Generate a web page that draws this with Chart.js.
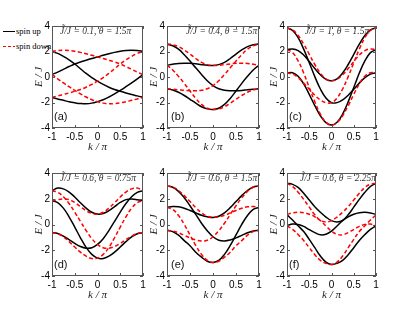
<!DOCTYPE html>
<html>
<head>
<meta charset="utf-8">
<script src="https://cdn.jsdelivr.net/npm/chart.js@4.4.1/dist/chart.umd.min.js"></script>
<style>
  html, body { margin: 0; padding: 0; background: #fff; }
  #wrap { position: relative; width: 415px; height: 310px; overflow: hidden; }
  #wrap canvas { position: absolute; }
  .note { position: absolute; font: italic 9.5px 'Liberation Serif', 'Times New Roman', serif; white-space: nowrap; line-height: 1; color: #333; }
  .tag { position: absolute; font: 11px 'Liberation Sans Narrow', 'Liberation Sans', Arial, sans-serif; line-height: 1; color: #111; }
  .leg { position: absolute; font: 8.5px 'Liberation Serif', 'Times New Roman', serif; line-height: 1; white-space: nowrap; color: #000; }
  .swatch { position: absolute; width: 12px; height: 1.6px; }
</style>
</head>
<body>
<div id="wrap">
  <div class="swatch" style="left:3px;top:30.5px;background:#000"></div>
  <div class="leg" style="left:16px;top:26.5px">spin up</div>
  <div class="swatch" style="left:3px;top:45.5px;background:repeating-linear-gradient(90deg,#f00 0 3px,transparent 3px 5px)"></div>
  <div class="leg" style="left:16px;top:41.5px">spin down</div>
</div>
<script>
// k / pi sample points
const kVals = [-1, -0.875, -0.75, -0.625, -0.5, -0.375, -0.25, -0.125, 0, 0.125, 0.25, 0.375, 0.5, 0.625, 0.75, 0.875, 1];

// (a) J~/J = 0.1, theta = 1.5pi
const upA1 = [0.2, 0.38, 0.6, 0.82, 1.02, 1.18, 1.32, 1.45, 1.57, 1.7, 1.82, 1.93, 2.02, 2.08, 2.1, 2.08, 2.0];
const upA2 = [2.0, 1.85, 1.62, 1.35, 1.02, 0.65, 0.28, -0.05, -0.33, -0.58, -0.8, -0.98, -1.12, -1.25, -1.37, -1.48, -1.6];
const upA3 = [-1.6, -1.72, -1.83, -1.94, -2.02, -2.08, -2.1, -2.05, -1.93, -1.78, -1.57, -1.32, -1.05, -0.76, -0.46, -0.14, 0.2];
const dnA1 = [2.0, 2.08, 2.1, 2.08, 2.02, 1.93, 1.82, 1.7, 1.57, 1.45, 1.32, 1.18, 1.02, 0.82, 0.6, 0.38, 0.2];
const dnA2 = [-1.6, -1.48, -1.37, -1.25, -1.12, -0.98, -0.8, -0.58, -0.33, -0.05, 0.28, 0.65, 1.02, 1.35, 1.62, 1.85, 2.0];
const dnA3 = [0.2, -0.14, -0.46, -0.76, -1.05, -1.32, -1.57, -1.78, -1.93, -2.05, -2.1, -2.08, -2.02, -1.94, -1.83, -1.72, -1.6];

// (b) J~/J = 0.4, theta = 1.5pi
const upB1 = [2.57, 2.45, 2.18, 1.75, 1.25, 0.72, 0.2, -0.3, -0.68, -0.92, -1.04, -1.08, -1.08, -1.05, -1.0, -0.96, -0.93];
const upB2 = [0.92, 1.0, 1.06, 1.08, 1.07, 1.03, 0.97, 0.92, 0.9, 0.97, 1.15, 1.45, 1.8, 2.12, 2.38, 2.53, 2.6];
const upB3 = [-0.93, -1.02, -1.2, -1.45, -1.75, -2.05, -2.33, -2.5, -2.55, -2.45, -2.15, -1.68, -1.1, -0.5, 0.05, 0.55, 0.92];
const dnB1 = [-0.93, -0.96, -1.0, -1.05, -1.08, -1.08, -1.04, -0.92, -0.68, -0.3, 0.2, 0.72, 1.25, 1.75, 2.18, 2.45, 2.57];
const dnB2 = [2.6, 2.53, 2.38, 2.12, 1.8, 1.45, 1.15, 0.97, 0.9, 0.92, 0.97, 1.03, 1.07, 1.08, 1.06, 1.0, 0.92];
const dnB3 = [0.92, 0.55, 0.05, -0.5, -1.1, -1.68, -2.15, -2.45, -2.55, -2.5, -2.33, -2.05, -1.75, -1.45, -1.2, -1.02, -0.93];

// (c) J~/J = 1, theta = 1.5pi
const upC1 = [3.85, 3.65, 3.09, 2.19, 1.12, 0.03, -0.94, -1.65, -2.02, -2.01, -1.8, -1.43, -0.96, -0.48, -0.05, 0.23, 0.33];
const upC2 = [2.15, 2.2, 2.07, 1.72, 1.21, 0.66, 0.17, -0.18, -0.3, -0.14, 0.31, 0.98, 1.78, 2.58, 3.25, 3.7, 3.85];
const upC3 = [0.32, 0.33, 0.06, -0.54, -1.36, -2.25, -3.04, -3.58, -3.77, -3.55, -2.91, -1.95, -0.82, 0.31, 1.27, 1.91, 2.15];
const dnC1 = [0.33, 0.23, -0.05, -0.48, -0.96, -1.43, -1.8, -2.01, -2.02, -1.65, -0.94, 0.03, 1.12, 2.19, 3.09, 3.65, 3.85];
const dnC2 = [3.85, 3.7, 3.25, 2.58, 1.78, 0.98, 0.31, -0.14, -0.3, -0.18, 0.17, 0.66, 1.21, 1.72, 2.07, 2.2, 2.15];
const dnC3 = [2.15, 1.91, 1.27, 0.31, -0.82, -1.95, -2.91, -3.55, -3.77, -3.58, -3.04, -2.25, -1.36, -0.54, 0.06, 0.33, 0.32];

// (d) J~/J = 0.6, theta = 0.75pi
const upD1 = [2.62, 2.83, 2.77, 2.52, 2.14, 1.69, 1.27, 0.95, 0.81, 0.86, 1.07, 1.39, 1.71, 1.93, 1.98, 1.93, 1.85];
const upD2 = [1.85, 1.7, 1.27, 0.6, -0.2, -1.03, -1.78, -2.32, -2.61, -2.64, -2.46, -2.15, -1.75, -1.33, -0.96, -0.72, -0.63];
const upD3 = [-0.63, -0.7, -0.9, -1.18, -1.47, -1.71, -1.84, -1.81, -1.55, -1.1, -0.47, 0.24, 0.96, 1.63, 2.16, 2.5, 2.62];
const dnD1 = [1.85, 1.93, 1.98, 1.93, 1.71, 1.39, 1.07, 0.86, 0.81, 0.95, 1.27, 1.69, 2.14, 2.52, 2.77, 2.83, 2.62];
const dnD2 = [-0.63, -0.72, -0.96, -1.33, -1.75, -2.15, -2.46, -2.64, -2.61, -2.32, -1.78, -1.03, -0.2, 0.6, 1.27, 1.7, 1.85];
const dnD3 = [2.62, 2.5, 2.16, 1.63, 0.96, 0.24, -0.47, -1.1, -1.55, -1.81, -1.84, -1.71, -1.47, -1.18, -0.9, -0.7, -0.63];

// (e) J~/J = 0.6, theta = 1.5pi
const upE1 = [3.0, 2.89, 2.57, 2.08, 1.46, 0.78, 0.1, -0.48, -0.95, -1.22, -1.28, -1.2, -1.04, -0.84, -0.64, -0.5, -0.45];
const upE2 = [1.33, 1.4, 1.37, 1.26, 1.09, 0.9, 0.72, 0.6, 0.55, 0.64, 0.91, 1.31, 1.78, 2.24, 2.64, 2.91, 3.0];
const upE3 = [-0.45, -0.55, -0.83, -1.25, -1.65, -2.15, -2.54, -2.85, -2.95, -2.79, -2.32, -1.63, -0.81, 0.01, 0.7, 1.17, 1.33];
const dnE1 = [-0.45, -0.5, -0.64, -0.84, -1.04, -1.2, -1.28, -1.22, -0.95, -0.48, 0.1, 0.78, 1.46, 2.08, 2.57, 2.89, 3.0];
const dnE2 = [3.0, 2.91, 2.64, 2.24, 1.78, 1.31, 0.91, 0.64, 0.55, 0.6, 0.72, 0.9, 1.09, 1.26, 1.37, 1.4, 1.33];
const dnE3 = [1.33, 1.17, 0.7, 0.01, -0.81, -1.63, -2.32, -2.79, -2.95, -2.85, -2.54, -2.15, -1.65, -1.25, -0.83, -0.55, -0.45];

// (f) J~/J = 0.6, theta = 2.25pi
const upF1 = [3.2, 3.12, 2.88, 2.42, 1.9, 1.38, 0.95, 0.58, 0.3, 0.2, 0.32, 0.75, 1.35, 1.95, 2.5, 2.95, 3.2];
const upF2 = [-0.08, 0.03, 0.0, -0.15, -0.4, -0.63, -0.8, -0.76, -0.52, -0.12, 0.3, 0.6, 0.8, 0.92, 0.95, 0.9, 0.78];
const upF3 = [0.75, 0.35, -0.1, -0.55, -1.15, -1.8, -2.45, -2.92, -3.1, -3.02, -2.78, -2.35, -1.8, -1.25, -0.78, -0.38, -0.1];
const dnF1 = [3.2, 2.95, 2.5, 1.95, 1.35, 0.75, 0.32, 0.2, 0.3, 0.58, 0.95, 1.38, 1.9, 2.42, 2.88, 3.12, 3.2];
const dnF2 = [0.78, 0.9, 0.95, 0.92, 0.8, 0.6, 0.3, -0.12, -0.52, -0.76, -0.8, -0.63, -0.4, -0.15, 0.0, 0.03, -0.08];
const dnF3 = [-0.1, -0.38, -0.78, -1.25, -1.8, -2.35, -2.78, -3.02, -3.1, -2.92, -2.45, -1.8, -1.15, -0.55, -0.1, 0.35, 0.75];

const panelTags = ['(a)', '(b)', '(c)', '(d)', '(e)', '(f)'];
const jRatio = ['0.1', '0.4', '1', '0.6', '0.6', '0.6'];
const thetaVals = ['1.5π', '1.5π', '1.5π', '0.75π', '1.5π', '2.25π'];
const spinUp = [[upA1, upA2, upA3], [upB1, upB2, upB3], [upC1, upC2, upC3], [upD1, upD2, upD3], [upE1, upE2, upE3], [upF1, upF2, upF3]];
const spinDown = [[dnA1, dnA2, dnA3], [dnB1, dnB2, dnB3], [dnC1, dnC2, dnC3], [dnD1, dnD2, dnD3], [dnE1, dnE2, dnE3], [dnF1, dnF2, dnF3]];

// plot-area boxes in page pixels
const boxes = [
  { l: 52, t: 24, w: 91, h: 104 },
  { l: 167, t: 24, w: 92, h: 104 },
  { l: 287, t: 24, w: 89, h: 104 },
  { l: 52, t: 171, w: 91, h: 105 },
  { l: 167, t: 171, w: 92, h: 105 },
  { l: 287, t: 171, w: 89, h: 105 }
];
const noteLeft = [60, 186, 305, 60, 186, 300];
const tagLeft = [54, 171, 289, 54, 171, 289];

const AXIS_W = 42, AXIS_H = 26, PAD = 6;
const tickFont = { family: "'Liberation Sans Narrow', 'Liberation Sans', Arial, sans-serif", size: 10 };
const titleFont = { family: "'Liberation Serif', 'Times New Roman', serif", size: 11, style: 'italic' };

const frame = {
  id: 'frame',
  afterDraw(chart) {
    const { ctx, chartArea: a, scales: { x, y } } = chart;
    ctx.save();
    ctx.strokeStyle = '#555';
    ctx.lineWidth = 1;
    ctx.strokeRect(a.left + 0.5, a.top + 0.5, a.right - a.left - 1, a.bottom - a.top - 1);
    ctx.beginPath();
    x.ticks.forEach(t => {
      const px = Math.round(x.getPixelForValue(t.value)) + 0.5;
      ctx.moveTo(px, a.bottom); ctx.lineTo(px, a.bottom - 3);
      ctx.moveTo(px, a.top); ctx.lineTo(px, a.top + 3);
    });
    y.ticks.forEach(t => {
      const py = Math.round(y.getPixelForValue(t.value)) + 0.5;
      ctx.moveTo(a.left, py); ctx.lineTo(a.left + 3, py);
      ctx.moveTo(a.right, py); ctx.lineTo(a.right - 3, py);
    });
    ctx.stroke();
    ctx.restore();
  }
};

const wrap = document.getElementById('wrap');

boxes.forEach((b, i) => {
  const cv = document.createElement('canvas');
  const cw = b.w + AXIS_W + PAD, ch = b.h + PAD + AXIS_H;
  cv.width = cw; cv.height = ch;
  cv.style.width = cw + 'px'; cv.style.height = ch + 'px';
  cv.style.left = (b.l - AXIS_W) + 'px';
  cv.style.top = (b.t - PAD) + 'px';
  wrap.appendChild(cv);

  const datasets = [];
  spinDown[i].forEach(band => datasets.push({
    data: kVals.map((k, j) => ({ x: k, y: band[j] })),
    borderColor: '#ff0000', borderWidth: 1.5, borderDash: [4, 2.5]
  }));
  spinUp[i].forEach(band => datasets.push({
    data: kVals.map((k, j) => ({ x: k, y: band[j] })),
    borderColor: '#000', borderWidth: 1.5
  }));

  new Chart(cv, {
    type: 'line',
    data: { datasets },
    options: {
      responsive: false,
      animation: false,
      layout: { padding: { top: PAD, right: PAD, left: 0, bottom: 0 } },
      elements: { point: { radius: 0 }, line: { tension: 0.4, fill: false } },
      plugins: { legend: { display: false }, tooltip: { enabled: false } },
      scales: {
        x: {
          type: 'linear', min: -1, max: 1,
          grid: { display: false, drawTicks: false }, border: { display: false },
          ticks: { stepSize: 0.5, padding: 3, color: '#000', font: tickFont, maxRotation: 0, callback: v => String(v) },
          title: { display: true, text: 'k / π', color: '#222', font: titleFont, padding: { top: 0, bottom: 0 } },
          afterFit: s => { s.height = AXIS_H; }
        },
        y: {
          min: -4, max: 4,
          grid: { display: false, drawTicks: false }, border: { display: false },
          ticks: { stepSize: 2, padding: 2, color: '#000', font: tickFont, callback: v => String(v) },
          title: { display: true, text: 'E / J', color: '#222', font: titleFont, padding: { top: 23, bottom: 0 } },
          afterFit: s => { s.width = AXIS_W; }
        }
      }
    },
    plugins: [frame]
  });

  const note = document.createElement('div');
  note.className = 'note';
  note.textContent = 'J\u0303/J = ' + jRatio[i] + ', θ = ' + thetaVals[i];
  note.style.left = noteLeft[i] + 'px';
  note.style.top = (b.t + 3) + 'px';
  wrap.appendChild(note);

  const tag = document.createElement('div');
  tag.className = 'tag';
  tag.textContent = panelTags[i];
  tag.style.left = tagLeft[i] + 'px';
  tag.style.top = (b.t + b.h - 17) + 'px';
  wrap.appendChild(tag);
});
</script>
</body>
</html>
